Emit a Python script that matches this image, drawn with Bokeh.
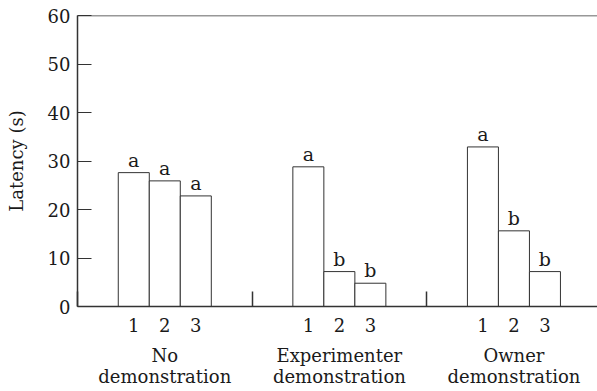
from bokeh.plotting import figure
from bokeh.models import FixedTicker, LinearAxis, Range1d, Span, ColumnDataSource
from bokeh.core.properties import value
from bokeh.embed import file_html
from bokeh.resources import INLINE

# ---- data ----
groups = ["No\ndemonstration", "Experimenter\ndemonstration", "Owner\ndemonstration"]
conditions = ["1", "2", "3"]
latency_no = [27.6, 25.9, 22.8]
latency_exp = [28.8, 7.2, 4.8]
latency_own = [32.9, 15.6, 7.2]
letters_no = ["a", "a", "a"]
letters_exp = ["a", "b", "b"]
letters_own = ["a", "b", "b"]
y_ticks = [0, 10, 20, 30, 40, 50, 60]

series = [latency_no, latency_exp, latency_own]
letters = [letters_no, letters_exp, letters_own]

# ---- layout in data units (bar width = 1) ----
GW = 5.63  # group width
xs, tops, labs, cond_labels = [], [], [], {}
group_centers, boundaries = [], []
for g, (vals, let) in enumerate(zip(series, letters)):
    start = g * GW
    boundaries.append(start)
    center = start + GW / 2
    group_centers.append(center)
    for i, (v, l) in enumerate(zip(vals, let)):
        x = center + (i - 1)
        xs.append(x)
        tops.append(v)
        labs.append(l)
        cond_labels[x] = conditions[i]

FONT = "DejaVu Serif"
FS = "18px"
LC = "#333333"
TC = "#1a1a1a"

p = figure(width=597, height=389, output_backend="svg", toolbar_location=None,
           x_range=Range1d(0, 16.77), y_range=Range1d(0, 60),
           min_border_left=77, min_border_right=0, min_border_top=15, min_border_bottom=80)
p.outline_line_color = None
p.grid.visible = False
p.background_fill_color = "white"
p.border_fill_color = "white"

src = ColumnDataSource(dict(x=xs, top=tops, lab=labs))
p.vbar(x="x", top="top", width=1, bottom=0, source=src,
       fill_color="white", line_color=LC, line_width=1)
p.text(x="x", y="top", text="lab", source=src, y_offset=-13,
       text_align="center", text_baseline="alphabetic",
       text_font=value(FONT), text_font_size="19px", text_color=TC)

p.add_layout(Span(location=60, dimension="width", line_color=LC, line_width=1.5))

# y axis
ya = p.yaxis[0]
ya.ticker = FixedTicker(ticks=y_ticks)
ya.major_tick_in = 14
ya.major_tick_out = 0
ya.minor_tick_line_color = None
ya.axis_line_color = LC
ya.major_tick_line_color = LC
ya.axis_line_width = 1.5
ya.major_label_standoff = 7
ya.major_label_text_font = FONT
ya.major_label_text_font_size = FS
ya.major_label_text_color = TC
ya.axis_label = "Latency (s)"
ya.axis_label_text_font = FONT
ya.axis_label_text_font_size = FS
ya.axis_label_text_font_style = "normal"
ya.axis_label_text_color = TC
ya.axis_label_standoff = 18

# x axis: condition labels, separators as minor ticks
xa = p.xaxis[0]
xa.ticker = FixedTicker(ticks=xs, minor_ticks=boundaries)
xa.major_label_overrides = cond_labels
xa.major_tick_in = 0
xa.major_tick_out = 0
xa.minor_tick_in = 15
xa.minor_tick_out = 0
xa.minor_tick_line_color = LC
xa.minor_tick_line_width = 1.5
xa.axis_line_color = LC
xa.axis_line_width = 1.5
xa.major_label_standoff = 11
xa.major_label_text_font = FONT
xa.major_label_text_font_size = FS
xa.major_label_text_color = TC

# group labels axis
ga = LinearAxis(ticker=FixedTicker(ticks=group_centers),
                major_label_overrides={c: g for c, g in zip(group_centers, groups)})
ga.axis_line_color = None
ga.major_tick_line_color = None
ga.minor_tick_line_color = None
ga.major_label_standoff = 4
ga.major_label_text_font = FONT
ga.major_label_text_font_size = FS
ga.major_label_text_color = TC
ga.major_label_text_line_height = 1.0
p.add_layout(ga, "below")

open("out.html", "w").write(file_html(p, INLINE))
